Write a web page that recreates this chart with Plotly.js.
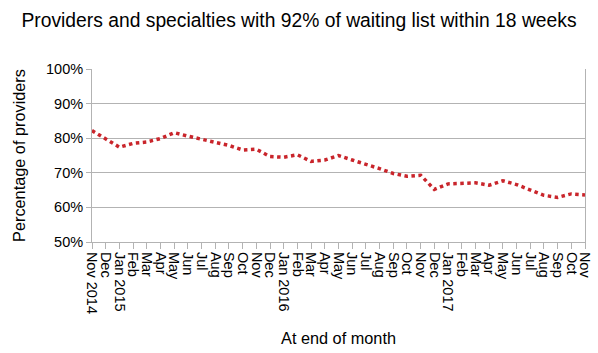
<!DOCTYPE html>
<html>
<head>
<meta charset="utf-8">
<script src="https://cdn.plot.ly/plotly-3.0.1.min.js"></script>
<style>html,body{margin:0;padding:0;background:#fff;}#chart{width:598px;height:353px;}</style>
</head>
<body>
<div id="chart"></div>
<script>
var monthLabels = ["Nov 2014","Dec","Jan 2015","Feb","Mar","Apr","May","Jun","Jul","Aug","Sep","Oct",
  "Nov","Dec","Jan 2016","Feb","Mar","Apr","May","Jun","Jul","Aug","Sep","Oct",
  "Nov","Dec","Jan 2017","Feb","Mar","Apr","May","Jun","Jul","Aug","Sep","Oct","Nov"];
var pctProviders = [82.2,79.8,77.4,78.5,78.9,79.9,81.6,80.6,79.7,78.9,77.9,76.6,
  76.8,74.7,74.5,75.2,73.3,73.7,75.0,73.7,72.5,71.2,69.8,69.0,
  69.3,65.2,66.8,67.0,67.1,66.4,67.7,66.6,65.0,63.5,62.9,63.9,63.6];
var yTickVals = [50,60,70,80,90,100];
var yTickText = ["50%","60%","70%","80%","90%","100%"];

var idx = monthLabels.map(function(_, i){ return i; });

var trace = {
  x: idx,
  y: pctProviders,
  type: 'scatter',
  mode: 'lines',
  line: {color: '#c9252b', width: 3.5, dash: 'dot'},
  hoverinfo: 'skip'
};

var layout = {
  width: 598, height: 353,
  margin: {l: 92, r: 13, t: 69, b: 111},
  paper_bgcolor: '#fff', plot_bgcolor: '#fff',
  font: {family: 'Liberation Sans, Arial, sans-serif', color: '#000', size: 14.5},
  title: {text: 'Providers and specialties with 92% of waiting list within 18 weeks',
    x: 0.5, xanchor: 'center', y: 0.942, yanchor: 'middle',
    font: {size: 19.3, family: 'Liberation Sans, Arial, sans-serif', color: '#000'}},
  showlegend: false,
  xaxis: {
    range: [0, 36], tickmode: 'array', tickvals: idx, ticktext: monthLabels,
    tickangle: 90, ticks: 'outside', ticklen: 6, tickcolor: '#b3b3b3',
    showgrid: false, zeroline: false, showline: true, linecolor: '#b3b3b3', linewidth: 1,
    mirror: false, tickfont: {size: 14.5},
    title: {text: 'At end of month', font: {size: 16.3}, standoff: 19}
  },
  yaxis: {
    range: [50, 100], tickmode: 'array', tickvals: yTickVals, ticktext: yTickText,
    ticks: 'outside', ticklen: 5, tickcolor: '#b3b3b3',
    showgrid: true, gridcolor: '#b3b3b3', gridwidth: 1, zeroline: false,
    showline: true, linecolor: '#b3b3b3', linewidth: 1, mirror: true,
    tickfont: {size: 14.5},
    title: {text: 'Percentage of providers', font: {size: 16.3}, standoff: 16}
  }
};

Plotly.newPlot('chart', [trace], layout, {staticPlot: true, displayModeBar: false});
</script>
</body>
</html>
